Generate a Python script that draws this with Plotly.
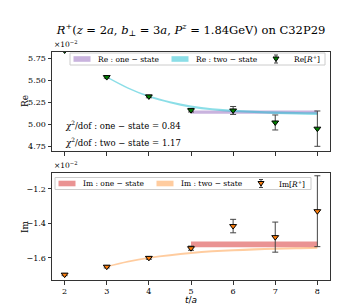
import plotly.graph_objects as go

# ---- data (units of 1e-2) ----
t_pts = [2, 3, 4, 5, 6, 7, 8]
re_vals = [5.835, 5.534, 5.315, 5.159, 5.156, 5.02, 4.95]
re_errs = [0.01, 0.012, 0.015, 0.02, 0.045, 0.085, 0.2]
im_vals = [-1.697, -1.651, -1.600, -1.544, -1.416, -1.480, -1.330]
im_errs = [0.006, 0.007, 0.008, 0.012, 0.039, 0.087, 0.205]

re_one_t = [5, 8]
re_one_c = [5.138, 5.138]
re_one_e = [0.018, 0.018]

two_t = [3, 3.5, 4, 4.5, 5, 5.5, 6, 6.5, 7, 7.5, 8]
re_two_c = [5.534, 5.41, 5.315, 5.25, 5.20, 5.17, 5.152, 5.14, 5.131, 5.125, 5.12]
re_two_e = [0.008, 0.009, 0.01, 0.011, 0.012, 0.012, 0.013, 0.013, 0.014, 0.014, 0.015]

im_one_t = [5, 8]
im_one_c = [-1.522, -1.522]
im_one_e = [0.017, 0.017]

im_two_c = [-1.651, -1.622, -1.600, -1.585, -1.572, -1.562, -1.556, -1.551, -1.547, -1.544, -1.541]
im_two_e = [0.004, 0.005, 0.005, 0.006, 0.006, 0.006, 0.006, 0.006, 0.006, 0.006, 0.006]

chi_one = 0.84
chi_two = 1.17

re_labels = ["Re : one − state", "Re : two − state", "Re[<i>R</i><sup>+</sup>]"]
im_labels = ["Im : one − state", "Im : two − state", "Im[<i>R</i><sup>+</sup>]"]

FONT = "DejaVu Serif"
W, H = 357, 306
ML, MR, MT, MB = 44, 35, 44, 34
PW, PH = W - ML - MR, H - MT - MB

C_RE1 = "rgba(148,103,189,0.5)"
C_RE2 = "rgba(23,190,207,0.5)"
C_IM1 = "rgba(214,39,40,0.5)"
C_IM2 = "rgba(255,127,14,0.4)"


def px(x):
    return (x - ML) / PW


def py(y):
    return (H - MB - y) / PH


fig = go.Figure()


def band(x, c, e, color, xa, ya):
    lo = [ci - ei for ci, ei in zip(c, e)]
    hi = [ci + ei for ci, ei in zip(c, e)]
    fig.add_trace(go.Scatter(x=x, y=lo, mode="lines", line=dict(width=0, shape="spline"),
                             showlegend=False, hoverinfo="skip", xaxis=xa, yaxis=ya))
    fig.add_trace(go.Scatter(x=x, y=hi, mode="lines", line=dict(width=0, shape="spline"),
                             fill="tonexty", fillcolor=color, showlegend=False,
                             xaxis=xa, yaxis=ya))


band(re_one_t, re_one_c, re_one_e, C_RE1, "x", "y")
band(two_t, re_two_c, re_two_e, C_RE2, "x", "y")
fig.add_trace(go.Scatter(x=t_pts, y=re_vals, mode="markers", showlegend=False,
                         error_y=dict(type="data", array=re_errs, color="#444", thickness=1, width=3),
                         marker=dict(symbol="triangle-down", size=6, color="green",
                                     line=dict(color="black", width=1)),
                         xaxis="x", yaxis="y"))

band(im_one_t, im_one_c, im_one_e, C_IM1, "x2", "y2")
band(two_t, im_two_c, im_two_e, C_IM2, "x2", "y2")
fig.add_trace(go.Scatter(x=t_pts, y=im_vals, mode="markers", showlegend=False,
                         error_y=dict(type="data", array=im_errs, color="#444", thickness=1, width=3),
                         marker=dict(symbol="triangle-down", size=6, color="#ff7f0e",
                                     line=dict(color="black", width=1)),
                         xaxis="x2", yaxis="y2"))

axis_common = dict(showline=True, mirror=True, linecolor="#333", linewidth=1, ticks="outside",
                   ticklen=3.5, tickcolor="#333", showgrid=False, zeroline=False, automargin=False,
                   tickfont=dict(family=FONT, size=8, color="black"))

shapes = []
annotations = []


def legend_box(x0, x1, yc, labels, c1, c2, mcolor):
    shapes.append(dict(type="rect", xref="paper", yref="paper", x0=px(x0), x1=px(x1),
                       y0=py(yc + 6), y1=py(yc - 6), fillcolor="rgba(255,255,255,0.85)",
                       line=dict(color="#cccccc", width=1), layer="above"))
    sx = [x0 + 3.5, x0 + 101.5]
    for s, col in zip(sx, [c1, c2]):
        shapes.append(dict(type="rect", xref="paper", yref="paper", x0=px(s), x1=px(s + 17),
                           y0=py(yc + 2.8), y1=py(yc - 2.8), fillcolor=col,
                           line=dict(width=0), layer="above"))
    tx = [x0 + 25.5, x0 + 123.5, x0 + 222]
    for t, lab in zip(tx, labels):
        annotations.append(dict(text=lab, x=px(t), y=py(yc), xref="paper", yref="paper",
                                xanchor="left", yanchor="middle", showarrow=False,
                                font=dict(family=FONT, size=7.5, color="black")))
    mx = x0 + 206
    # error bar legend handle
    shapes.append(dict(type="line", xref="paper", yref="paper", x0=px(mx), x1=px(mx),
                       y0=py(yc - 4), y1=py(yc + 4), line=dict(color="#444", width=1), layer="above"))
    for yy in (yc - 4, yc + 4):
        shapes.append(dict(type="line", xref="paper", yref="paper", x0=px(mx - 2), x1=px(mx + 2),
                           y0=py(yy), y1=py(yy), line=dict(color="#444", width=1), layer="above"))
    path = (f"M{px(mx - 3)},{py(yc - 2)} L{px(mx + 3)},{py(yc - 2)} "
            f"L{px(mx)},{py(yc + 2.5)} Z")
    shapes.append(dict(type="path", xref="paper", yref="paper", path=path, fillcolor=mcolor,
                       line=dict(color="black", width=1), layer="above"))


legend_box(62, 317, 51, re_labels, C_RE1, C_RE2, "green")
legend_box(47, 303, 175.5, im_labels, C_IM1, C_IM2, "#ff7f0e")

annotations += [
    dict(text="×10<sup>−2</sup>", x=0, y=1.0, xref="paper", yref="paper", xanchor="left",
         yanchor="bottom", showarrow=False, font=dict(family=FONT, size=7.5), yshift=1),
    dict(text="×10<sup>−2</sup>", x=0, y=py(165), xref="paper", yref="paper", xanchor="left",
         yanchor="bottom", showarrow=False, font=dict(family=FONT, size=7.5), yshift=1),
    dict(text=f"<i>χ</i><sup>2</sup>/dof : one − state = {chi_one}", x=px(55), y=py(117),
         xref="paper", yref="paper", xanchor="left", yanchor="middle", showarrow=False,
         font=dict(family=FONT, size=8.5)),
    dict(text=f"<i>χ</i><sup>2</sup>/dof : two − state = {chi_two}", x=px(55), y=py(134),
         xref="paper", yref="paper", xanchor="left", yanchor="middle", showarrow=False,
         font=dict(family=FONT, size=8.5)),
    dict(text="Re", x=px(17), y=py(93), xref="paper", yref="paper", xanchor="center",
         yanchor="middle", showarrow=False, textangle=-90, font=dict(family=FONT, size=9)),
    dict(text="Im", x=px(17), y=py(218), xref="paper", yref="paper", xanchor="center",
         yanchor="middle", showarrow=False, textangle=-90, font=dict(family=FONT, size=9)),
    dict(text="<i>t</i>/<i>a</i>", x=px(183), y=py(292), xref="paper", yref="paper",
         xanchor="center", yanchor="middle", showarrow=False,
         font=dict(family="DejaVu Sans", size=9)),
]

fig.update_layout(
    width=W, height=H,
    margin=dict(l=ML, r=MR, t=MT, b=MB, autoexpand=False),
    plot_bgcolor="white", paper_bgcolor="white",
    font=dict(family=FONT, size=8, color="black"),
    showlegend=False,
    xaxis=dict(domain=[0, 1], anchor="y", range=[1.7, 8.3], tickvals=[2, 3, 4, 5, 6, 7, 8],
               showticklabels=False, **axis_common),
    yaxis=dict(domain=[py(143), 1], anchor="x", range=[4.697, 5.818],
               tickvals=[4.75, 5.0, 5.25, 5.5, 5.75], ticktext=["4.75", "5.00", "5.25", "5.50", "5.75"],
               **axis_common),
    xaxis2=dict(domain=[0, 1], anchor="y2", range=[1.7, 8.3], tickvals=[2, 3, 4, 5, 6, 7, 8],
                **axis_common),
    yaxis2=dict(domain=[0, py(165)], anchor="x2", range=[-1.728, -1.109],
                tickvals=[-1.6, -1.4, -1.2], ticktext=["−1.6", "−1.4", "−1.2"], **axis_common),
    title=dict(text="<i>R</i><sup>+</sup>(<i>z</i> = 2<i>a</i>, <i>b</i><sub>⊥</sub> = 3<i>a</i>, "
                    "<i>P</i><sup><i>z</i></sup> = 1.84GeV) on C32P29",
               x=0.5, xref="paper", y=1 - 22 / H, yref="container", xanchor="center", yanchor="middle",
               font=dict(family=FONT, size=11.5, color="black")),
    shapes=shapes,
    annotations=annotations,
)

fig.write_html("out.html")
